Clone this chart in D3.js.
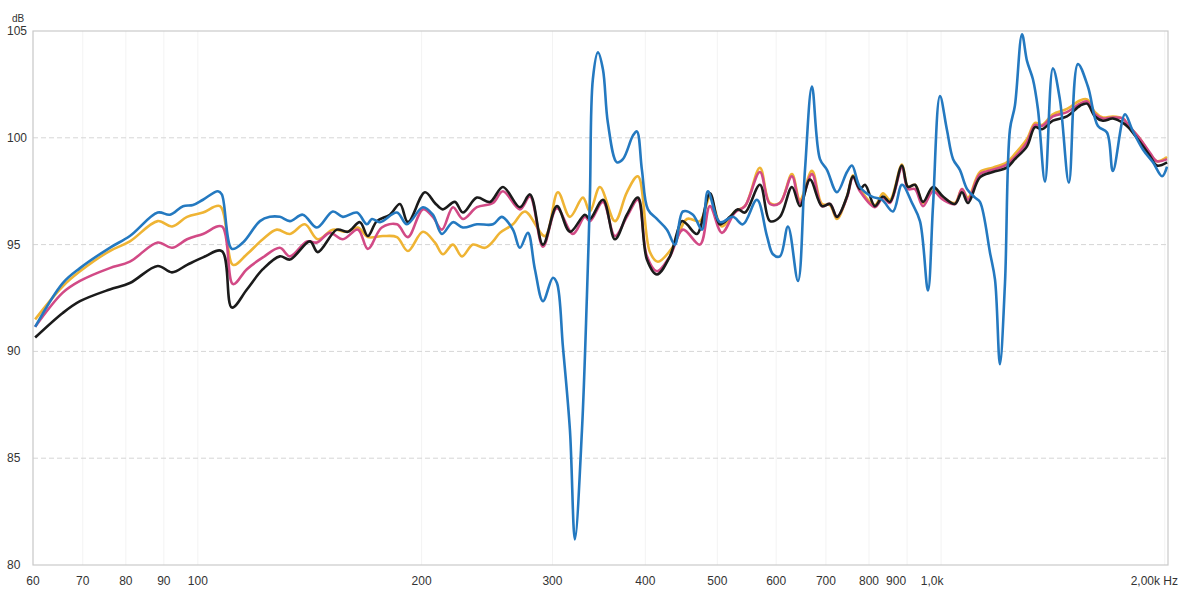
<!DOCTYPE html>
<html>
<head>
<meta charset="utf-8">
<script src="https://cdn.jsdelivr.net/npm/d3@7"></script>
<style>
  body { margin: 0; background: #fff; }
  text { font-family: "Liberation Sans", Arial, sans-serif; fill: #333; }
</style>
</head>
<body>
<svg id="chart" width="1198" height="589"></svg>
<script>
// frequency ticks and their labels
let tickHz = [60, 70, 80, 90, 100, 200, 300, 400, 500, 600, 700, 800, 900, 1000];
let tickText = ['60', '70', '80', '90', '100', '200', '300', '400', '500', '600', '700', '800', '900', '1,0k'];
let dbTicks = [80, 85, 90, 95, 100, 105];

// black trace
let blackHz = [60.4, 65.8, 69.4, 76.1, 81.0, 88.3, 92.3, 96.7, 101.6, 107.7, 111.1, 116.4, 122.3, 128.9, 133.0,
  141.5, 145.0, 153.8, 159.2, 165.2, 169.3, 174.1, 181.3, 187.0, 191.7, 202.1, 208.4, 213.6, 221.7, 227.3, 237.4,
  247.2, 257.3, 271.2, 279.8, 291.3, 304.2, 316.7, 331.7, 336.9, 350.8, 364.1, 377.8, 390.9, 402.0, 414.6, 431.7,
  448.0, 455.0, 469.4, 488.6, 504.0, 519.9, 532.9, 544.6, 570.5, 588.5, 607.0, 630.0, 645.9, 666.2, 691.4, 708.8,
  724.3, 747.1, 761.2, 777.8, 790.0, 814.8, 835.2, 853.6, 885.9, 902.6, 922.4, 945.5, 975.3, 1006, 1044, 1067,
  1087, 1128, 1174, 1226, 1257, 1305, 1338, 1367, 1414, 1477, 1538, 1572, 1611, 1651, 1703, 1757, 1785, 1852,
  1910, 1952, 2014];
let blackDb = [90.65, 91.8, 92.35, 92.9, 93.2, 94.0, 93.7, 94.05, 94.4, 94.7, 92.05, 92.9, 93.85, 94.45, 94.3,
  95.15, 94.65, 95.7, 95.6, 96.05, 95.4, 96.1, 96.4, 96.9, 96.05, 97.45, 96.95, 96.65, 97.0, 96.5, 97.2,
  97.0, 97.7, 96.75, 97.35, 95.0, 96.8, 95.6, 96.4, 96.2, 97.1, 95.25, 96.4, 97.2, 94.3, 93.6, 94.45,
  96.1, 95.95, 95.5, 97.4, 95.95, 96.3, 96.65, 96.5, 97.8, 96.1, 96.3, 97.7, 96.8, 98.05, 96.8, 96.9,
  96.3, 97.25, 98.2, 97.6, 97.8, 96.8, 97.25, 97.0, 98.7, 97.7, 97.8, 97.0, 97.7, 97.25, 96.9, 97.45,
  96.95, 98.15, 98.4, 98.6, 99.0, 99.6, 100.5, 100.4, 100.8, 101.0, 101.5, 101.6, 101.0, 100.8, 100.9, 100.7, 100.5, 99.8,
  99.15, 98.7, 98.85];

// magenta trace
let pinkHz = [60.4, 65.8, 69.4, 76.1, 81.0, 88.3, 92.3, 96.7, 101.6, 107.7, 111.5, 116.4, 122.3, 128.9, 133.0,
  140.2, 144.6, 150.5, 156.7, 164.2, 169.3, 176.8, 185.3, 191.7, 200.8, 207.1, 213.0, 220.4, 227.3, 237.4, 249.5,
  257.3, 271.2, 279.8, 291.3, 304.2, 319.6, 331.7, 336.9, 350.8, 364.1, 377.8, 390.9, 402.0, 414.6, 431.7, 449.4,
  473.7, 488.6, 507.1, 528.0, 544.6, 570.5, 588.5, 607.0, 630.0, 645.9, 670.3, 691.4, 708.8, 724.3, 747.1, 761.2,
  777.8, 814.8, 835.2, 853.6, 885.9, 902.6, 922.4, 945.5, 975.3, 1006, 1044, 1067, 1087, 1128, 1174, 1226, 1257,
  1305, 1338, 1367, 1414, 1477, 1538, 1572, 1611, 1651, 1703, 1757, 1785, 1852, 1910, 1952, 2014];
let pinkDb = [91.15, 92.75, 93.3, 93.9, 94.2, 95.1, 94.85, 95.25, 95.5, 95.85, 93.15, 93.85, 94.4, 94.85, 94.45,
  95.15, 95.1, 95.55, 95.25, 95.7, 94.8, 95.8, 95.95, 95.35, 96.65, 96.3, 95.7, 96.75, 96.2, 96.75, 96.95,
  97.5, 96.65, 97.25, 94.9, 96.7, 95.5, 96.3, 96.1, 97.0, 95.4, 96.3, 97.1, 94.45, 93.75, 94.45, 95.7,
  95.0, 96.8, 95.55, 96.5, 96.8, 98.4, 96.9, 96.95, 98.2, 96.95, 98.3, 96.8, 96.9, 96.3, 97.2, 98.15,
  97.5, 96.75, 97.2, 96.95, 98.6, 97.6, 97.6, 96.8, 97.5, 97.1, 96.9, 97.6, 97.1, 98.3, 98.5, 98.75, 99.1,
  99.8, 100.6, 100.55, 101.0, 101.2, 101.6, 101.7, 101.1, 100.9, 100.95, 100.9, 100.6, 99.95, 99.3, 98.9, 99.0];

// yellow trace
let yellowHz = [60.4, 65.8, 69.4, 76.1, 81.0, 88.3, 92.3, 96.7, 101.6, 107.1, 111.5, 116.4, 122.3, 127.7, 133.0,
  139.3, 145.0, 151.9, 158.7, 164.2, 169.3, 177.4, 185.3, 191.7, 200.8, 208.4, 213.6, 220.4, 226.6, 234.5, 243.4,
  249.5, 254.9, 265.4, 275.5, 293.1, 305.1, 316.7, 329.7, 336.9, 347.5, 364.1, 377.8, 390.9, 405.7, 415.9, 435.7,
  455.0, 473.7, 488.6, 507.1, 528.0, 544.6, 570.5, 588.5, 607.0, 630.0, 645.9, 670.3, 691.4, 708.8, 724.3, 747.1,
  761.2, 777.8, 814.8, 835.2, 853.6, 885.9, 902.6, 922.4, 945.5, 975.3, 1006, 1044, 1067, 1087, 1128, 1174, 1226,
  1257, 1305, 1338, 1367, 1414, 1477, 1538, 1572, 1611, 1651, 1703, 1757, 1785, 1852, 1910, 1952, 2014];
let yellowDb = [91.5, 93.05, 93.75, 94.7, 95.15, 96.1, 95.85, 96.3, 96.5, 96.8, 94.05, 94.55, 95.25, 95.7, 95.5,
  95.95, 95.25, 95.7, 95.6, 95.8, 95.35, 95.4, 95.35, 94.7, 95.6, 95.1, 94.55, 95.0, 94.45, 95.0, 94.85,
  95.15, 95.55, 95.95, 96.55, 95.4, 97.45, 96.3, 97.2, 96.55, 97.7, 96.1, 97.45, 98.2, 94.65, 94.2, 94.9,
  96.2, 96.1, 97.2, 95.85, 96.55, 96.8, 98.6, 96.95, 96.95, 98.3, 97.1, 98.45, 96.9, 96.85, 96.2, 97.25,
  98.25, 97.6, 96.85, 97.4, 97.1, 98.75, 97.7, 97.8, 96.95, 97.6, 97.2, 96.95, 97.6, 97.2, 98.4, 98.6, 98.85,
  99.25, 99.95, 100.7, 100.6, 101.1, 101.35, 101.75, 101.8, 101.2, 100.95, 101.0, 100.9, 100.6, 99.95, 99.25, 98.9, 99.1];

// blue trace
let blueHz = [60.4, 65.8, 69.4, 76.1, 81.0, 88.3, 91.7, 95.5, 98.5, 101.6, 106.4, 107.7, 111.1, 115.0, 121.2, 125.0,
  128.9, 133.0, 138.4, 144.6, 151.9, 156.7, 163.7, 168.8, 171.5, 175.8, 185.3, 191.1, 200.8, 207.1, 213.0, 220.4,
  227.3, 237.4, 249.5, 256.5, 265.4, 271.2, 278.0, 284.1, 291.3, 300.4, 304.2, 309.9, 316.7, 321.6, 328.7, 333.8,
  336.9, 340.0, 345.4, 350.8, 356.2, 366.3, 373.2, 384.9, 389.7, 395.8, 403.2, 414.6, 427.7, 438.4, 449.4, 463.6,
  476.7, 485.6, 504.0, 524.7, 541.3, 565.3, 583.1, 594.0, 607.0, 622.3, 641.9, 656.0, 670.3, 687.2, 702.2, 724.3,
  747.1, 758.8, 777.8, 807.2, 832.7, 861.5, 885.9, 913.8, 936.7, 960.2, 975.3, 996.6, 1018, 1038, 1060, 1084, 1111,
  1128, 1164, 1182, 1200, 1219, 1238, 1257, 1285, 1305, 1329, 1350, 1380, 1414, 1445, 1486, 1528, 1576, 1626, 1672,
  1703, 1768, 1807, 1869, 1928, 1983, 2014];
let blueDb = [91.15, 93.2, 93.9, 94.85, 95.4, 96.5, 96.4, 96.8, 96.85, 97.1, 97.5, 97.35, 94.8, 95.1, 96.1, 96.3,
  96.3, 96.1, 96.4, 95.8, 96.55, 96.3, 96.5, 95.95, 96.2, 96.05, 96.5, 95.95, 96.75, 96.4, 95.5, 96.05,
  95.8, 95.95, 95.95, 96.3, 95.7, 94.85, 95.55, 93.85, 92.35, 93.45, 93.2, 90.2, 86.3, 81.2, 86.3, 92.6,
  97.25, 102.75, 104.0, 103.2, 100.7, 98.85, 99.0, 100.1, 100.3, 98.5, 96.65, 96.2, 95.7, 95.0, 96.55, 96.4,
  95.7, 97.5, 96.05, 96.3, 95.95, 97.1, 95.4, 94.55, 94.45, 95.85, 93.3, 98.5, 102.4, 99.0, 98.5, 97.45,
  98.4, 98.7, 97.7, 97.25, 97.1, 96.55, 97.8, 96.95, 96.1, 92.85, 96.8, 101.95, 100.4, 99.0, 98.5, 97.6, 97.2,
  97.0, 94.6, 93.35, 89.4, 93.2, 100.4, 101.5, 104.85, 103.6, 102.75, 101.35, 97.95, 103.25, 101.8, 97.9, 103.45, 102.4, 100.55, 100.25,
  98.45, 101.1, 100.4, 99.45, 98.85, 98.2, 98.65];

let series = [
  { name: 'yellow', hz: yellowHz, db: yellowDb, color: '#efb434' },
  { name: 'pink', hz: pinkHz, db: pinkDb, color: '#d24a86' },
  { name: 'black', hz: blackHz, db: blackDb, color: '#1b1b1b' },
  { name: 'blue', hz: blueHz, db: blueDb, color: '#2479c0' }
];

let margin = { left: 33, right: 30, top: 31, bottom: 24 },
    width = 1198, height = 589;

let svg = d3.select('#chart');

let x = d3.scaleLog().domain([60, 2020]).range([margin.left, width - margin.right]);
let y = d3.scaleLinear().domain([80, 105]).range([height - margin.bottom, margin.top]);

// vertical grid, barely visible
svg.append('g')
  .selectAll('line')
  .data(tickHz.concat([2000]))
  .join('line')
  .attr('x1', d => x(d)).attr('x2', d => x(d))
  .attr('y1', y(105)).attr('y2', y(80))
  .attr('stroke', '#f3f3f3')
  .attr('stroke-width', 1);

// horizontal dashed grid
svg.append('g')
  .selectAll('line')
  .data(dbTicks.filter(d => d > 80 && d < 105))
  .join('line')
  .attr('x1', x.range()[0]).attr('x2', x.range()[1])
  .attr('y1', d => y(d)).attr('y2', d => y(d))
  .attr('stroke', '#d6d6d6')
  .attr('stroke-dasharray', '5,3')
  .attr('stroke-width', 1);

// frame
svg.append('rect')
  .attr('x', x.range()[0]).attr('y', y(105))
  .attr('width', x.range()[1] - x.range()[0])
  .attr('height', y(80) - y(105))
  .attr('fill', 'none')
  .attr('stroke', '#cacaca')
  .attr('stroke-width', 1.2);

// y labels
svg.append('g')
  .selectAll('text')
  .data(dbTicks)
  .join('text')
  .attr('x', 7)
  .attr('y', d => y(d) + 4)
  .attr('font-size', 12)
  .text(d => d);

svg.append('text')
  .attr('x', 12).attr('y', 22)
  .attr('font-size', 10)
  .text('dB');

// x labels (900 and 1,0k sit a little to the left of their ticks)
let labelShift = { 900: -11, 1000: -9 };
svg.append('g')
  .selectAll('text')
  .data(tickHz)
  .join('text')
  .attr('x', d => x(d) + (labelShift[d] || 0))
  .attr('y', 585)
  .attr('font-size', 12)
  .attr('text-anchor', 'middle')
  .text((d, i) => tickText[i]);

svg.append('text')
  .attr('x', 1178).attr('y', 585)
  .attr('font-size', 12)
  .attr('text-anchor', 'end')
  .text('2,00k Hz');

// traces
let line = d3.line()
  .x(d => x(d[0]))
  .y(d => y(d[1]))
  .curve(d3.curveCatmullRom.alpha(0.5));

let plot = svg.append('g');

plot.append('clipPath').attr('id', 'clip')
  .append('rect')
  .attr('x', x.range()[0]).attr('y', y(105) - 2)
  .attr('width', x.range()[1] - x.range()[0])
  .attr('height', y(80) - y(105) + 2);

plot.selectAll('path')
  .data(series)
  .join('path')
  .attr('clip-path', 'url(#clip)')
  .attr('d', s => line(s.hz.map((h, i) => [h, s.db[i]])))
  .attr('fill', 'none')
  .attr('stroke', s => s.color)
  .attr('stroke-width', 2.6)
  .attr('stroke-linejoin', 'round');
</script>
</body>
</html>
